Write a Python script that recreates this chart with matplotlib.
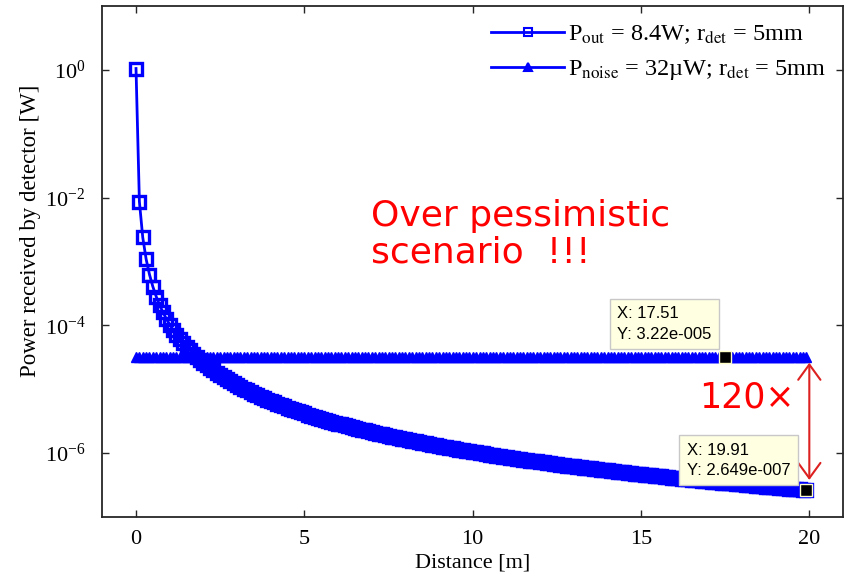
import numpy as np
import matplotlib.pyplot as plt

plt.rcParams['font.family'] = 'Liberation Serif'
plt.rcParams['mathtext.fontset'] = 'stix'

# distance grid of the simulation (0.01:0.1:19.91 m)
distance = np.arange(0.01, 20, 0.1)

# received power, in microwatts
p_out_uW = [
    1050100, 8678.5, 2381.2, 1092.7, 624.7, 403.7, 282.2, 208.3, 160.1, 126.8,
    102.9, 85.23, 71.72, 61.19, 52.82, 46.06, 40.51, 35.91, 32.05, 28.78,
    25.99, 23.59, 21.50, 19.68, 18.08, 16.67, 15.42, 14.30, 13.30, 12.40,
    11.59, 10.86, 10.19, 9.585, 9.031, 8.523, 8.058, 7.629, 7.234, 6.869,
    6.530, 6.217, 5.925, 5.653, 5.400, 5.163, 4.941, 4.734, 4.539, 4.356,
    4.184, 4.021, 3.869, 3.724, 3.588, 3.459, 3.337, 3.221, 3.111, 3.006,
    2.907, 2.813, 2.723, 2.637, 2.556, 2.478, 2.403, 2.332, 2.264, 2.199,
    2.137, 2.077, 2.020, 1.965, 1.912, 1.862, 1.813, 1.767, 1.722, 1.678,
    1.637, 1.597, 1.558, 1.521, 1.485, 1.450, 1.417, 1.384, 1.353, 1.323,
    1.294, 1.265, 1.238, 1.212, 1.186, 1.161, 1.137, 1.114, 1.091, 1.069,
    1.048, 1.027, 1.007, 0.9879, 0.9690, 0.9507, 0.9328, 0.9155, 0.8986, 0.8822,
    0.8663, 0.8507, 0.8356, 0.8209, 0.8066, 0.7926, 0.7791, 0.7658, 0.7529, 0.7403,
    0.7280, 0.7161, 0.7044, 0.6930, 0.6818, 0.6710, 0.6604, 0.6500, 0.6399, 0.6301,
    0.6204, 0.6110, 0.6018, 0.5928, 0.5839, 0.5753, 0.5669, 0.5587, 0.5506, 0.5427,
    0.5350, 0.5274, 0.5200, 0.5128, 0.5057, 0.4988, 0.4920, 0.4853, 0.4788, 0.4724,
    0.4661, 0.4599, 0.4539, 0.4480, 0.4422, 0.4365, 0.4309, 0.4255, 0.4201, 0.4149,
    0.4097, 0.4046, 0.3996, 0.3948, 0.3900, 0.3852, 0.3806, 0.3761, 0.3716, 0.3672,
    0.3629, 0.3587, 0.3545, 0.3505, 0.3464, 0.3425, 0.3386, 0.3348, 0.3311, 0.3274,
    0.3237, 0.3202, 0.3167, 0.3132, 0.3098, 0.3065, 0.3032, 0.3000, 0.2968, 0.2937,
    0.2906, 0.2875, 0.2846, 0.2816, 0.2787, 0.2759, 0.2731, 0.2703, 0.2676, 0.2649,
]
p_noise_uW = [32.2] * len(p_out_uW)

p_out = np.array(p_out_uW) * 1e-6
p_noise = np.array(p_noise_uW) * 1e-6

tip_x = [17.51, 19.91]
tip_y = [3.22e-5, 2.649e-7]
tip_text = ["X: 17.51\nY: 3.22e-005", "X: 19.91\nY: 2.649e-007"]
tip_offset = [(-14, 15), (-16, 12)]

fig = plt.figure(figsize=(8.46, 5.82), dpi=100)
ax = fig.add_axes([102/846, 65/582, 741/846, 511/582])

ax.semilogy(distance, p_out, color='#0000ff', lw=2, marker='s', ms=8,
            mfc='none', mew=2.4,
            label=r'P$_{\mathrm{out}}$ = 8.4W; r$_{\mathrm{det}}$ = 5mm')
ax.semilogy(distance, p_noise, color='#0000ff', lw=2, marker='^', ms=7,
            mfc='#0000ff', mew=1,
            label=r'P$_{\mathrm{noise}}$ = 32µW; r$_{\mathrm{det}}$ = 5mm')

ax.set_xlim(-1, 21)
ax.set_ylim(1e-7, 1e1)
ax.set_xticks([0, 5, 10, 15, 20])
ax.set_yticks([1e-6, 1e-4, 1e-2, 1e0])
ax.yaxis.set_minor_locator(plt.NullLocator())
ax.tick_params(direction='in', top=True, right=True, length=5, width=1,
               labelsize=16, color='#262626')
ax.tick_params(axis='y', pad=12)
ax.tick_params(axis='x', pad=9)
for s in ax.spines.values():
    s.set_color('#262626')
    s.set_linewidth(1.3)

ax.set_xlabel('Distance [m]', fontsize=16)
ax.set_ylabel('Power received by detector [W]', fontsize=16.5)
ax.xaxis.set_label_coords(0.5, -0.072)
ax.yaxis.set_label_coords(-0.082, 0.56)

leg = ax.legend(loc='upper right', bbox_to_anchor=(1.0, 1.0), frameon=False,
                fontsize=17.5, handlelength=3.0, handletextpad=0.15,
                labelspacing=0.5, borderaxespad=0.3)
for h in leg.get_lines():
    h.set_markersize(6)
    h.set_markeredgewidth(1.5)

for x, y, t, off in zip(tip_x, tip_y, tip_text, tip_offset):
    ax.annotate(t, xy=(x, y), xytext=off, textcoords='offset pixels',
                ha='right', va='bottom', multialignment='left', fontsize=12,
                family='Liberation Sans', linespacing=1.45,
                bbox=dict(boxstyle='square,pad=0.45', fc='#ffffe1', ec='#c8c8c8', lw=1),
                zorder=5)
    ax.plot(x, y, 's', color='black', ms=8, mec='#ffffc8', mew=1, zorder=6)

ax.text(7.0, 3.55e-3, 'Over pessimistic', color='#ff0000', fontsize=26,
        family='DejaVu Sans', va='baseline')
ax.text(7.0, 9.7e-4, 'scenario  !!!', color='#ff0000', fontsize=26,
        family='DejaVu Sans', va='baseline')
ax.text(16.73, 5.2e-6, '120×', color='#ff0000', fontsize=25,
        family='DejaVu Sans', va='baseline')

ax.annotate('', xy=(20.0, 2.6e-5), xytext=(20.0, 3.8e-7),
            arrowprops=dict(arrowstyle='<->,head_length=0.55,head_width=0.4',
                            color='#dd2020', lw=1.5, mutation_scale=20,
                            shrinkA=0, shrinkB=0))

fig.savefig('out.png', dpi=100)
